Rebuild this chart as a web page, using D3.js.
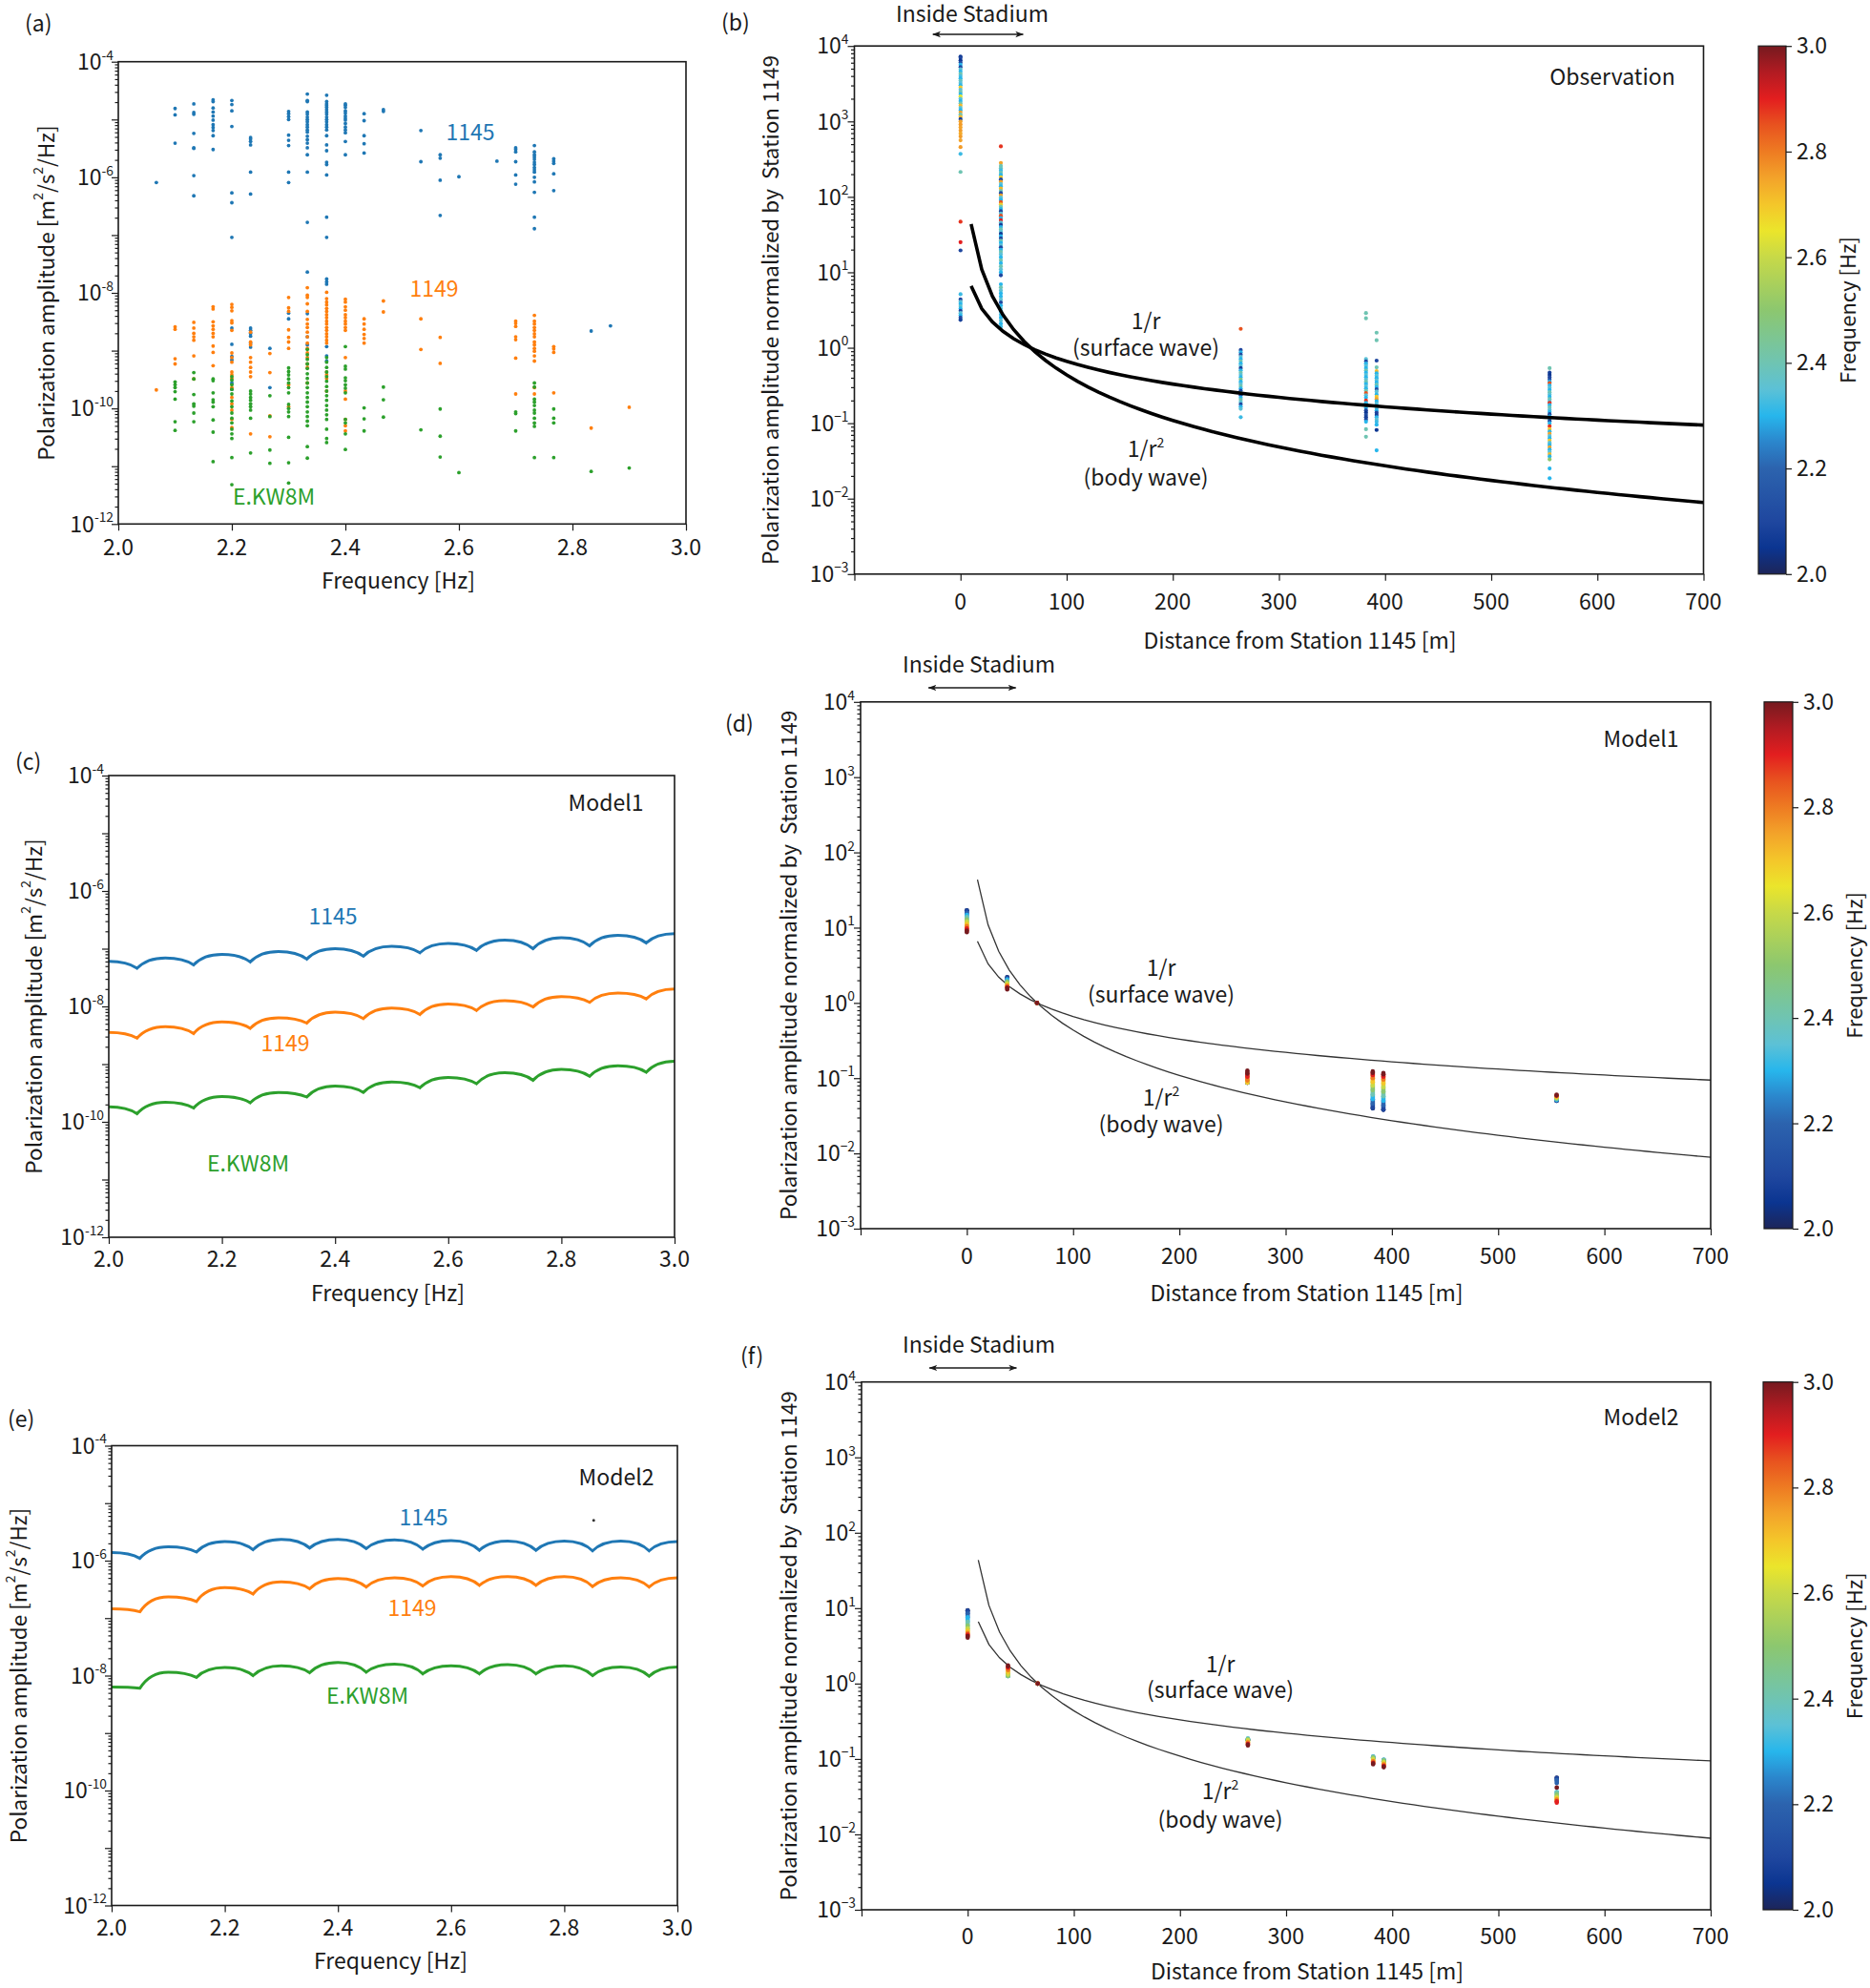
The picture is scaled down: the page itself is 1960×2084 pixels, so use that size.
<!DOCTYPE html>
<html>
<head>
<meta charset="utf-8">
<script src="https://cdn.jsdelivr.net/npm/d3@7/dist/d3.min.js"></script>
<style>
  body { margin: 0; background: #fff; }
  text { font-family: "Noto Sans CJK JP", "Noto Sans", sans-serif; }
</style>
</head>
<body>
<script>
// ---------- data (amplitudes stored as log10 values) ----------

// (a) observed polarization amplitude: [frequency, [log10 amplitude, ...]]
var obs1145 = [
  [2.067, [-6.09]],
  [2.1, [-4.81, -4.92, -5.41]],
  [2.133, [-4.73, -4.88, -4.91, -5.24, -5.49, -5.50, -5.97, -6.32]],
  [2.167, [-4.66, -4.69, -4.80, -4.87, -4.94, -5.01, -5.09, -5.14, -5.19, -5.28, -5.52]],
  [2.2, [-4.67, -4.74, -4.85, -5.12, -6.27, -6.44, -7.04, -8.61, -8.89, -9.10, -9.16, -9.56, -9.67]],
  [2.233, [-5.31, -5.34, -5.38, -5.44, -5.91, -6.29, -8.61, -8.65, -8.70, -8.75, -8.87, -8.94]],
  [2.267, [-8.96, -9.64]],
  [2.3, [-4.86, -4.90, -4.95, -5.00, -5.27, -5.36, -5.45, -5.91, -6.09, -8.35, -8.45]],
  [2.333, [-4.56, -4.67, -4.69, -4.87, -4.91, -4.96, -5.00, -5.04, -5.09, -5.13, -5.18, -5.22, -5.29, -5.35, -5.41, -5.49, -5.61, -5.91, -6.78, -7.64, -8.36, -8.76, -8.90]],
  [2.367, [-4.58, -4.69, -4.73, -4.76, -4.79, -4.83, -4.87, -4.91, -4.96, -5.00, -5.04, -5.09, -5.13, -5.18, -5.28, -5.44, -5.54, -5.74, -5.78, -5.96, -6.69, -7.04, -7.76, -7.81, -7.85, -8.93, -9.09, -9.18]],
  [2.4, [-4.73, -4.75, -4.79, -4.85, -4.89, -4.94, -4.98, -5.01, -5.07, -5.13, -5.18, -5.23, -5.38, -5.61]],
  [2.433, [-4.90, -5.02, -5.28, -5.42, -5.58]],
  [2.467, [-4.83, -4.86]],
  [2.533, [-5.19, -5.73]],
  [2.567, [-5.61, -5.67, -6.05, -6.66]],
  [2.6, [-5.99]],
  [2.667, [-5.72]],
  [2.7, [-5.49, -5.52, -5.56, -5.73, -5.96, -6.12]],
  [2.733, [-5.45, -5.56, -5.61, -5.65, -5.69, -5.74, -5.78, -5.83, -5.87, -5.91, -6.00, -6.08, -6.26, -6.69, -6.89]],
  [2.767, [-5.68, -5.72, -5.76, -5.94, -6.23]],
  [2.833, [-8.66]],
  [2.867, [-8.57]]
];
var obs1149 = [
  [2.067, [-9.68]],
  [2.1, [-8.59, -8.63, -9.14, -9.23]],
  [2.133, [-8.51, -8.61, -8.70, -8.76, -8.82, -9.09, -9.49]],
  [2.167, [-8.24, -8.28, -8.50, -8.57, -8.63, -8.70, -8.76, -8.92, -9.03, -9.26]],
  [2.2, [-8.20, -8.25, -8.31, -8.48, -8.52, -8.65, -9.04, -9.12, -9.20, -9.37, -9.42, -9.48, -9.64, -9.81, -9.92, -10.03, -10.19, -10.33]],
  [2.233, [-8.68, -8.85, -8.90, -9.12, -9.20, -9.29, -9.37, -9.45, -10.44]],
  [2.267, [-9.05, -9.38, -10.13, -10.49]],
  [2.3, [-8.08, -8.26, -8.32, -8.64, -8.77, -8.85, -8.96, -9.59, -9.97]],
  [2.333, [-7.91, -8.04, -8.08, -8.19, -8.32, -8.46, -8.54, -8.60, -8.68, -8.76, -8.87, -8.96, -9.04, -9.12, -9.23, -9.29, -9.56]],
  [2.367, [-7.99, -8.10, -8.16, -8.21, -8.27, -8.32, -8.38, -8.43, -8.49, -8.54, -8.60, -8.65, -8.71, -8.76, -8.82, -8.87, -9.37, -9.42, -9.48, -9.70]],
  [2.4, [-8.11, -8.16, -8.24, -8.30, -8.38, -8.43, -8.49, -8.54, -8.60, -8.65, -9.12, -9.70, -9.84, -10.19, -10.30, -10.39]],
  [2.433, [-8.45, -8.54, -8.63, -8.72, -8.79, -8.87]],
  [2.467, [-8.14, -8.33]],
  [2.533, [-8.45, -8.98]],
  [2.567, [-8.77, -9.22]],
  [2.7, [-8.49, -8.53, -8.58, -8.76, -8.81, -9.13, -9.75]],
  [2.733, [-8.39, -8.49, -8.54, -8.60, -8.65, -8.71, -8.76, -8.85, -8.90, -8.96, -9.01, -9.09, -9.18, -9.64, -9.75]],
  [2.767, [-8.93, -8.97, -9.03, -9.73]],
  [2.833, [-10.34]],
  [2.9, [-9.98]]
];
var obsKW8M = [
  [2.1, [-9.54, -9.59, -9.64, -9.71, -9.84, -10.23, -10.38]],
  [2.133, [-9.38, -9.49, -9.76, -9.92, -9.96, -10.08, -10.23]],
  [2.167, [-9.49, -9.52, -9.73, -9.85, -9.89, -9.97, -10.20, -10.41, -10.92]],
  [2.2, [-9.45, -9.51, -9.59, -9.67, -9.75, -9.87, -9.97, -10.08, -10.17, -10.25, -10.36, -10.44, -10.52, -10.85, -11.32]],
  [2.233, [-9.70, -9.75, -9.81, -9.86, -9.92, -9.97, -10.03, -10.17, -10.77]],
  [2.267, [-9.78, -10.14, -10.72, -10.95]],
  [2.3, [-9.30, -9.36, -9.42, -9.49, -9.56, -9.64, -9.73, -9.93, -10.00, -10.06, -10.14, -10.50, -10.94, -11.29]],
  [2.333, [-8.98, -9.07, -9.15, -9.23, -9.31, -9.40, -9.48, -9.56, -9.64, -9.73, -9.81, -9.89, -9.97, -10.06, -10.14, -10.22, -10.30, -10.66, -10.86]],
  [2.367, [-9.12, -9.20, -9.29, -9.37, -9.45, -9.53, -9.62, -9.70, -9.78, -9.86, -9.95, -10.03, -10.11, -10.19, -10.36, -10.52, -10.59]],
  [2.4, [-8.93, -9.27, -9.32, -9.47, -9.52, -9.59, -9.65, -9.73, -10.19, -10.25, -10.44, -10.71]],
  [2.433, [-9.99, -10.18, -10.39]],
  [2.467, [-9.63, -9.85, -10.15]],
  [2.533, [-10.37]],
  [2.567, [-10.01, -10.48, -10.84]],
  [2.6, [-11.11]],
  [2.7, [-10.06, -10.09, -10.39]],
  [2.733, [-9.56, -9.63, -9.84, -9.89, -9.95, -10.03, -10.08, -10.17, -10.25, -10.31, -10.85]],
  [2.767, [-10.01, -10.17, -10.25, -10.85]],
  [2.833, [-11.09]],
  [2.9, [-11.03]]
];

// (c), (e) modelled amplitude: peaks at 2.0, 2.1, ... and cusps at 2.05, 2.15, ...
var modelFreq = [2.0, 2.05, 2.1, 2.15, 2.2, 2.25, 2.3, 2.35, 2.4, 2.45, 2.5, 2.55, 2.6, 2.65, 2.7, 2.75, 2.8, 2.85, 2.9, 2.95, 3.0];
var m1_1145 = [-7.22, -7.34, -7.16, -7.28, -7.10, -7.23, -7.05, -7.18, -7.00, -7.13, -6.96, -7.07, -6.91, -7.03, -6.85, -7.00, -6.81, -6.95, -6.77, -6.90, -6.74];
var m1_1149 = [-8.45, -8.55, -8.35, -8.47, -8.27, -8.38, -8.20, -8.29, -8.10, -8.21, -8.03, -8.14, -7.96, -8.07, -7.90, -8.01, -7.83, -7.93, -7.77, -7.87, -7.70];
var m1_KW8M = [-9.74, -9.86, -9.66, -9.76, -9.56, -9.67, -9.49, -9.57, -9.38, -9.49, -9.31, -9.41, -9.23, -9.34, -9.15, -9.28, -9.09, -9.21, -9.03, -9.14, -8.95];
var m2_1145 = [-5.86, -5.96, -5.76, -5.85, -5.67, -5.81, -5.63, -5.78, -5.63, -5.79, -5.64, -5.80, -5.65, -5.82, -5.66, -5.82, -5.66, -5.83, -5.66, -5.83, -5.67];
var m2_1149 = [-6.84, -6.89, -6.63, -6.71, -6.47, -6.58, -6.37, -6.49, -6.31, -6.46, -6.30, -6.44, -6.28, -6.43, -6.28, -6.43, -6.28, -6.45, -6.30, -6.46, -6.30];
var m2_KW8M = [-8.20, -8.22, -7.94, -8.03, -7.86, -8.00, -7.83, -7.95, -7.77, -7.94, -7.80, -7.97, -7.83, -7.97, -7.81, -7.97, -7.83, -8.00, -7.85, -8.01, -7.85];
var m2_stray = [2.852, -5.30];

// (b) observed amplitude normalized by station 1149: [distance, [[log10 amp, freq], ...]]
var obsNorm = [
  [0, [[3.86,2.05],[3.84,2.1],[3.81,2.05],[3.78,2.12],[3.75,2.3],[3.72,2.1],[3.69,2.35],[3.66,2.3],[3.63,2.4],[3.60,2.33],[3.57,2.3],[3.54,2.38],[3.51,2.35],[3.48,2.3],[3.45,2.7],[3.42,2.35],[3.39,2.4],[3.36,2.3],[3.33,2.65],[3.30,2.35],[3.27,2.3],[3.24,2.4],[3.21,2.72],[3.18,2.35],[3.15,2.3],[3.12,2.75],[3.09,2.4],[3.06,2.72],[3.03,2.08],[3.00,2.75],[2.96,2.76],[2.92,2.75],[2.88,2.76],[2.84,2.74],[2.80,2.76],[2.75,2.75],[2.66,2.76],[2.57,2.32],[2.33,2.4],[1.67,2.88],[1.40,2.9],[1.29,2.1],[0.71,2.32],[0.64,2.1],[0.61,2.35],[0.58,2.3],[0.55,2.36],[0.52,2.3],[0.49,2.1],[0.46,2.35],[0.43,2.3],[0.40,2.12],[0.37,2.08]]],
  [38, [[2.67,2.88],[2.45,2.75],[2.41,2.4],[2.38,2.38],[2.35,2.32],[2.32,2.4],[2.29,2.3],[2.26,2.7],[2.23,2.1],[2.20,2.75],[2.17,2.35],[2.14,2.3],[2.11,2.72],[2.08,2.4],[2.05,2.1],[2.02,2.75],[1.99,2.35],[1.96,2.3],[1.93,2.85],[1.90,2.68],[1.87,2.4],[1.84,2.3],[1.81,2.1],[1.78,2.35],[1.75,2.86],[1.72,2.3],[1.69,2.9],[1.66,2.35],[1.63,2.08],[1.60,2.3],[1.57,2.4],[1.54,2.35],[1.51,2.05],[1.48,2.3],[1.45,2.1],[1.42,2.4],[1.39,2.3],[1.36,2.35],[1.33,2.1],[1.30,2.3],[1.27,2.4],[1.24,2.35],[1.20,2.3],[1.16,2.4],[1.12,2.3],[1.08,2.4],[1.04,2.35],[1.00,2.3],[0.96,2.1],[0.84,2.3],[0.80,2.4],[0.76,2.35],[0.72,2.3],[0.68,2.3],[0.64,2.35],[0.60,2.1],[0.56,2.3],[0.52,2.35],[0.48,2.3],[0.44,2.32],[0.40,2.3],[0.36,2.35],[0.32,2.3],[0.28,2.32]]],
  [264, [[0.25,2.85],[-0.03,2.1],[-0.06,2.3],[-0.09,2.12],[-0.12,2.35],[-0.15,2.3],[-0.18,2.4],[-0.21,2.3],[-0.24,2.35],[-0.27,2.08],[-0.30,2.3],[-0.33,2.4],[-0.36,2.35],[-0.39,2.3],[-0.42,2.45],[-0.45,2.3],[-0.48,2.35],[-0.51,2.4],[-0.54,2.3],[-0.57,2.12],[-0.60,2.35],[-0.63,2.1],[-0.66,2.3],[-0.69,2.4],[-0.72,2.35],[-0.75,2.1],[-0.78,2.3],[-0.81,2.35],[-0.92,2.32]]],
  [382, [[0.46,2.4],[0.39,2.4],[-0.15,2.35],[-0.18,2.1],[-0.21,2.3],[-0.24,2.35],[-0.27,2.3],[-0.30,2.4],[-0.33,2.3],[-0.36,2.35],[-0.39,2.3],[-0.42,2.35],[-0.45,2.4],[-0.48,2.3],[-0.51,2.35],[-0.54,2.3],[-0.57,2.4],[-0.60,2.85],[-0.63,2.35],[-0.66,2.3],[-0.70,2.88],[-0.73,2.3],[-0.76,2.35],[-0.80,2.3],[-0.83,2.1],[-0.86,2.05],[-0.89,2.12],[-0.92,2.08],[-0.95,2.1],[-0.98,2.3],[-1.08,2.4],[-1.18,2.4]]],
  [392, [[0.20,2.4],[0.10,2.4],[-0.17,2.1],[-0.26,2.4],[-0.31,2.72],[-0.34,2.3],[-0.37,2.35],[-0.40,2.3],[-0.43,2.35],[-0.46,2.3],[-0.49,2.4],[-0.52,2.3],[-0.55,2.12],[-0.58,2.35],[-0.62,2.3],[-0.65,2.7],[-0.68,2.75],[-0.71,2.3],[-0.74,2.35],[-0.77,2.3],[-0.80,2.35],[-0.83,2.3],[-0.86,2.1],[-0.89,2.08],[-0.92,2.3],[-0.95,2.35],[-0.98,2.32],[-1.02,2.3],[-1.09,2.05],[-1.36,2.3]]],
  [555, [[-0.27,2.4],[-0.33,2.08],[-0.36,2.05],[-0.39,2.1],[-0.42,2.12],[-0.45,2.3],[-0.47,2.85],[-0.50,2.3],[-0.53,2.35],[-0.56,2.3],[-0.59,2.4],[-0.62,2.35],[-0.65,2.3],[-0.68,2.4],[-0.71,2.35],[-0.73,2.88],[-0.76,2.3],[-0.79,2.4],[-0.82,2.35],[-0.85,2.3],[-0.88,2.12],[-0.91,2.3],[-0.94,2.35],[-0.97,2.1],[-1.00,2.3],[-1.04,2.88],[-1.08,2.7],[-1.11,2.3],[-1.14,2.75],[-1.17,2.35],[-1.20,2.3],[-1.23,2.7],[-1.26,2.35],[-1.29,2.3],[-1.32,2.75],[-1.35,2.3],[-1.38,2.35],[-1.41,2.72],[-1.44,2.3],[-1.48,2.5],[-1.60,2.3],[-1.73,2.3]]]
];

// (d), (f) modelled normalized amplitude, log10 value at each of modelFreq11
var modelFreq11 = [2.0, 2.1, 2.2, 2.3, 2.4, 2.5, 2.6, 2.7, 2.8, 2.9, 3.0];
var model1Norm = [
  [0,   [1.23, 1.20, 1.17, 1.14, 1.11, 1.08, 1.05, 1.02, 0.99, 0.96, 0.94]],
  [38,  [0.34, 0.32, 0.31, 0.29, 0.28, 0.26, 0.24, 0.23, 0.21, 0.20, 0.18]],
  [66,  [0, 0, 0, 0, 0, 0, 0, 0, 0, 0, 0]],
  [264, [-1.06, -1.06, -1.05, -1.05, -1.04, -1.04, -1.06, -1.03, -0.98, -0.94, -0.90]],
  [382, [-1.40, -1.34, -1.28, -1.22, -1.16, -1.10, -1.05, -1.00, -0.96, -0.93, -0.91]],
  [392, [-1.42, -1.36, -1.30, -1.24, -1.18, -1.12, -1.07, -1.02, -0.98, -0.95, -0.93]],
  [555, [-1.30, -1.29, -1.29, -1.28, -1.27, -1.26, -1.25, -1.24, -1.23, -1.23, -1.22]]
];
var model2Norm = [
  [0,   [0.97, 0.93, 0.88, 0.82, 0.77, 0.73, 0.70, 0.67, 0.65, 0.63, 0.61]],
  [38,  [0.12, 0.11, 0.10, 0.10, 0.10, 0.12, 0.15, 0.18, 0.21, 0.23, 0.24]],
  [66,  [0, 0, 0, 0, 0, 0, 0, 0, 0, 0, 0]],
  [264, [-0.75, -0.74, -0.74, -0.73, -0.74, -0.75, -0.77, -0.78, -0.80, -0.81, -0.82]],
  [382, [-0.99, -0.98, -0.97, -0.97, -0.98, -1.00, -1.02, -1.03, -1.05, -1.06, -1.07]],
  [392, [-1.03, -1.02, -1.01, -1.01, -1.02, -1.04, -1.06, -1.07, -1.09, -1.10, -1.11]],
  [555, [-1.25, -1.28, -1.32, -1.44, -1.47, -1.50, -1.52, -1.54, -1.56, -1.58, -1.38]]
];

// reference decay curves through station 1149 (66 m): 1/r and 1/r^2
var refR0 = 66;
var refDist = d3.range(10, 710, 10);

// axis ticks
var freqTicks = [2.0, 2.2, 2.4, 2.6, 2.8, 3.0];
var distTicks = [-100, 0, 100, 200, 300, 400, 500, 600, 700];
var distLabels = [0, 100, 200, 300, 400, 500, 600, 700];
var cbarTicks = [2.0, 2.2, 2.4, 2.6, 2.8, 3.0];

// colormap for frequency
var cmapStops = [2.0, 2.05, 2.1, 2.2, 2.25, 2.3, 2.35, 2.4, 2.5, 2.6, 2.65, 2.7, 2.75, 2.8, 2.85, 2.9, 2.95, 3.0];
var cmapColors = ["#1d2559", "#0b3591", "#1f479f", "#2c63ae", "#2b86cc", "#27b6ec", "#5cc1d6", "#6fc4b2", "#8cc76f", "#c7d948", "#ebe52b", "#f4c62a", "#f3a32a", "#ee7b22", "#e8531f", "#e31e1f", "#b21b22", "#761a1f"];

var c1145 = "#1f77b4", c1149 = "#ff7f0e", cKW8M = "#2ca02c";

// ---------- drawing ----------
var ink = "#1a1a1a";
var sans = '"Noto Sans CJK JP", "Noto Sans", sans-serif';
var dejavu = '"DejaVu Sans", sans-serif';
var fcol = d3.scaleLinear().domain(cmapStops).range(cmapColors).clamp(true);

var svg = d3.select("body").append("svg").attr("width", 1960).attr("height", 2084);
var defs = svg.append("defs");
defs.append("marker").attr("id", "arr").attr("viewBox", "0 0 10 10")
  .attr("refX", 9).attr("refY", 5).attr("markerWidth", 9).attr("markerHeight", 9)
  .attr("markerUnits", "userSpaceOnUse").attr("orient", "auto-start-reverse")
  .append("path").attr("d", "M0,1.5 L10,5 L0,8.5 L2.5,5 z").attr("fill", ink);

function txt(g, x, y, s, o) {
  o = o || {};
  return g.append("text").attr("x", x).attr("y", y)
    .attr("text-anchor", o.anchor || "middle")
    .attr("font-size", o.size || 23)
    .attr("font-family", o.family || sans)
    .attr("fill", o.fill || ink).text(s);
}
function vtxt(g, x, y, o) {
  o = o || {};
  return g.append("text").attr("transform", "translate(" + x + "," + y + ") rotate(-90)")
    .attr("text-anchor", "middle").attr("dominant-baseline", "central")
    .attr("font-size", o.size || 23).attr("font-family", o.family || sans)
    .attr("fill", ink);
}
function tidy(a) {
  a.select(".domain").remove();
  a.selectAll("line").attr("stroke", ink).attr("stroke-width", 1.2);
}
function powLabel(g, x, y, e, size, minus) {
  var t = g.append("text").attr("x", x).attr("y", y).attr("text-anchor", "end")
    .attr("font-size", size).attr("font-family", sans).attr("fill", ink);
  t.append("tspan").text("10");
  t.append("tspan").attr("dy", -size * 0.45).attr("font-size", size * 0.6)
    .text(String(e).replace("-", minus ? "\u2212" : "-"));
}
function logY(g, p, y, e0, e1, step, o) {
  var major = [], minor = [];
  for (var e = e0; e <= e1; e++) {
    major.push(Math.pow(10, e));
    if (e < e1) for (var m = 2; m < 10; m++) minor.push(m * Math.pow(10, e));
  }
  g.append("g").attr("transform", "translate(" + p.l + ",0)")
    .call(d3.axisLeft(y).tickValues(minor).tickSize(3.5).tickFormat("")).call(tidy);
  g.append("g").attr("transform", "translate(" + p.l + ",0)")
    .call(d3.axisLeft(y).tickValues(major).tickSize(7).tickFormat("")).call(tidy);
  for (var k = e0; k <= e1; k += step) powLabel(g, p.l - o.pad, y(Math.pow(10, k)) + o.size * 0.36, k, o.size, o.minus);
}
function bottomX(g, p, x, ticks, labels, dy, fmt) {
  g.append("g").attr("transform", "translate(0," + p.b + ")")
    .call(d3.axisBottom(x).tickValues(ticks).tickSize(7).tickFormat("")).call(tidy);
  labels.forEach(function(v) { txt(g, x(v), p.b + dy, fmt(v)); });
}
function frame(g, p) {
  g.append("rect").attr("x", p.l).attr("y", p.t).attr("width", p.r - p.l).attr("height", p.b - p.t)
    .attr("fill", "none").attr("stroke", ink).attr("stroke-width", 1.6);
}

// ---- frequency panels (a), (c), (e) ----
function freqPanel(p) {
  var g = svg.append("g");
  var x = d3.scaleLinear().domain([2, 3]).range([p.l, p.r]);
  var y = d3.scaleLog().domain([1e-12, 1e-4]).range([p.b, p.t]);
  txt(g, p.letter[0], p.letter[1], p.letter[2], { anchor: "start" });
  bottomX(g, p, x, freqTicks, freqTicks, p.tickDy, d3.format(".1f"));
  logY(g, p, y, -12, -4, 2, { pad: 5, size: 23, minus: false });
  txt(g, (p.l + p.r) / 2 - 4, p.b + p.xlabDy, "Frequency [Hz]");
  var yl = vtxt(g, p.ylabX, (p.t + p.b) / 2, { size: 22.5 });
  yl.append("tspan").text("Polarization amplitude [m");
  yl.append("tspan").attr("dy", -8).attr("font-size", 14).text("2");
  yl.append("tspan").attr("dy", 8).text("/s");
  yl.append("tspan").attr("dy", -8).attr("font-size", 14).text("2");
  yl.append("tspan").attr("dy", 8).text("/Hz]");
  return { g: g, x: x, y: y };
}

function scatterCols(g, x, y, cols, color) {
  cols.forEach(function(c) {
    c[1].forEach(function(e) {
      g.append("circle").attr("cx", x(c[0])).attr("cy", y(Math.pow(10, e)))
        .attr("r", 1.9).attr("fill", color);
    });
  });
}

function scallop(x, y, vals) {
  var pts = modelFreq.map(function(f, i) { return [x(f), y(Math.pow(10, vals[i]))]; });
  var d = "M" + pts[0][0] + "," + pts[0][1];
  for (var i = 1; i < pts.length; i++) {
    var a = pts[i - 1], b = pts[i], cx, cy;
    if (i % 2 === 1) { cx = a[0] + 0.65 * (b[0] - a[0]); cy = a[1]; }
    else { cx = a[0] + 0.35 * (b[0] - a[0]); cy = b[1]; }
    d += "Q" + cx + "," + cy + " " + b[0] + "," + b[1];
  }
  return d;
}

var pA = { l: 124, r: 719, t: 64.7, b: 549.3, letter: [26, 33, "(a)"], tickDy: 33, xlabDy: 68, ylabX: 47 };
var A = freqPanel(pA);
scatterCols(A.g, A.x, A.y, obs1145, c1145);
scatterCols(A.g, A.x, A.y, obs1149, c1149);
scatterCols(A.g, A.x, A.y, obsKW8M, cKW8M);
frame(A.g, pA);
txt(A.g, 493, 147, "1145", { fill: c1145 });
txt(A.g, 455, 311, "1149", { fill: c1149 });
txt(A.g, 287, 529, "E.KW8M", { fill: cKW8M });

var pC = { l: 114, r: 707, t: 813, b: 1297, letter: [16, 807, "(c)"], tickDy: 31, xlabDy: 67, ylabX: 34 };
var C = freqPanel(pC);
[[m1_1145, c1145], [m1_1149, c1149], [m1_KW8M, cKW8M]].forEach(function(s) {
  C.g.append("path").attr("d", scallop(C.x, C.y, s[0])).attr("fill", "none")
    .attr("stroke", s[1]).attr("stroke-width", 3);
});
frame(C.g, pC);
txt(C.g, 635, 850, "Model1");
txt(C.g, 349, 969, "1145", { fill: c1145 });
txt(C.g, 299, 1102, "1149", { fill: c1149 });
txt(C.g, 260, 1228, "E.KW8M", { fill: cKW8M });

var pE = { l: 117, r: 710, t: 1515.5, b: 1997.5, letter: [8, 1496, "(e)"], tickDy: 31, xlabDy: 66, ylabX: 18 };
var E = freqPanel(pE);
[[m2_1145, c1145], [m2_1149, c1149], [m2_KW8M, cKW8M]].forEach(function(s) {
  E.g.append("path").attr("d", scallop(E.x, E.y, s[0])).attr("fill", "none")
    .attr("stroke", s[1]).attr("stroke-width", 3);
});
E.g.append("circle").attr("cx", E.x(m2_stray[0])).attr("cy", E.y(Math.pow(10, m2_stray[1])))
  .attr("r", 1.5).attr("fill", "#333");
frame(E.g, pE);
txt(E.g, 646, 1557, "Model2");
txt(E.g, 444, 1599, "1145", { fill: c1145 });
txt(E.g, 432, 1694, "1149", { fill: c1149 });
txt(E.g, 385, 1786, "E.KW8M", { fill: cKW8M });

// ---- distance panels (b), (d), (f) ----
function colorbar(p, id) {
  var g = svg.append("g");
  var grad = defs.append("linearGradient").attr("id", id)
    .attr("x1", 0).attr("y1", 1).attr("x2", 0).attr("y2", 0);
  cmapStops.forEach(function(s, i) {
    grad.append("stop").attr("offset", s - 2).attr("stop-color", cmapColors[i]);
  });
  g.append("rect").attr("x", p.cbx).attr("y", p.t).attr("width", p.cbw).attr("height", p.b - p.t)
    .attr("fill", "url(#" + id + ")").attr("stroke", ink).attr("stroke-width", 1.2);
  var cy = d3.scaleLinear().domain([2, 3]).range([p.b, p.t]);
  g.append("g").attr("transform", "translate(" + (p.cbx + p.cbw) + ",0)")
    .call(d3.axisRight(cy).tickValues(cbarTicks).tickSize(6).tickFormat("")).call(tidy);
  cbarTicks.forEach(function(v) {
    txt(g, p.cbx + p.cbw + 11, cy(v) + 8, d3.format(".1f")(v), { anchor: "start" });
  });
  vtxt(g, p.cbx + p.cbw + 63, (p.t + p.b) / 2, { family: dejavu, size: 22 }).text("Frequency [Hz]");
}

function distPanel(p) {
  var g = svg.append("g");
  var x = d3.scaleLinear().domain([-100, 700]).range([p.l, p.r]);
  var y = d3.scaleLog().domain([1e-3, 1e4]).range([p.b, p.t]);
  txt(g, p.letter[0], p.letter[1], p.letter[2], { anchor: "start" });
  bottomX(g, p, x, distTicks, distLabels, p.tickDy, d3.format("d"));
  logY(g, p, y, -3, 4, 1, { pad: 6, size: 23, minus: true });
  txt(g, (p.l + p.r) / 2 + 22, p.b + p.xlabDy, "Distance from Station 1145 [m]");
  vtxt(g, p.ylabX, (p.t + p.b) / 2, { family: dejavu, size: 22.5 })
    .text("Polarization amplitude normalized by \u00a0Station 1149");
  // inside stadium annotation
  txt(g, p.stad[0], p.stad[1], "Inside Stadium");
  g.append("line").attr("x1", x(p.stadR[0])).attr("x2", x(p.stadR[1]))
    .attr("y1", p.stad[2]).attr("y2", p.stad[2]).attr("stroke", ink).attr("stroke-width", 1.5)
    .attr("marker-start", "url(#arr)").attr("marker-end", "url(#arr)");
  colorbar(p, p.id);
  return { g: g, x: x, y: y };
}

function refCurves(P, p, w) {
  var surf = d3.line().x(function(r) { return P.x(r); }).y(function(r) { return P.y(refR0 / r); });
  var body = d3.line().x(function(r) { return P.x(r); }).y(function(r) { return P.y(Math.pow(refR0 / r, 2)); });
  P.g.append("path").attr("d", surf(refDist)).attr("fill", "none").attr("stroke", p.lc).attr("stroke-width", w);
  P.g.append("path").attr("d", body(refDist)).attr("fill", "none").attr("stroke", p.lc).attr("stroke-width", w);
  var cx = p.lab[0];
  txt(P.g, cx, p.lab[1], "1/r");
  txt(P.g, cx, p.lab[2], "(surface wave)");
  var t = txt(P.g, cx, p.lab[3], "1/r");
  t.append("tspan").attr("dy", -10).attr("font-size", 14).text("2");
  txt(P.g, cx, p.lab[4], "(body wave)");
}

// gradient bars: short round-capped segments between neighbouring frequencies
function modelBars(P, cols) {
  cols.forEach(function(c) {
    var xs = P.x(c[0]);
    c[1].forEach(function(e, i) {
      var y0 = P.y(Math.pow(10, e));
      var col = fcol(modelFreq11[i]);
      if (i > 0 && Math.abs(e - c[1][i - 1]) < 0.1) {
        P.g.append("line").attr("x1", xs).attr("x2", xs)
          .attr("y1", P.y(Math.pow(10, c[1][i - 1]))).attr("y2", y0)
          .attr("stroke", col).attr("stroke-width", 4.6).attr("stroke-linecap", "round");
      } else {
        P.g.append("circle").attr("cx", xs).attr("cy", y0).attr("r", 2.4).attr("fill", col);
      }
    });
  });
}

var pB = { l: 895.5, r: 1785.5, t: 48.2, b: 601.8, letter: [756, 32, "(b)"], tickDy: 37, xlabDy: 78, ylabX: 806,
  stad: [1019, 23, 36], stadR: [-26, 59], cbx: 1843, cbw: 29, id: "cbB", lc: "#000",
  lab: [1201, 345, 373, 479, 509] };
var B = distPanel(pB);
obsNorm.forEach(function(c) {
  c[1].forEach(function(v) {
    B.g.append("circle").attr("cx", B.x(c[0])).attr("cy", B.y(Math.pow(10, v[0])))
      .attr("r", 2.1).attr("fill", fcol(v[1]));
  });
});
refCurves(B, pB, 3.6);
frame(B.g, pB);
txt(B.g, 1690, 89, "Observation");

var pD = { l: 902, r: 1793, t: 735.8, b: 1288, letter: [760, 767, "(d)"], tickDy: 37, xlabDy: 76, ylabX: 825,
  stad: [1026, 705, 721], stadR: [-36, 46], cbx: 1849, cbw: 30, id: "cbD", lc: "#333",
  lab: [1217, 1023, 1051, 1159, 1187] };
var D = distPanel(pD);
refCurves(D, pD, 1.3);
modelBars(D, model1Norm);
frame(D.g, pD);
txt(D.g, 1720, 783, "Model1");

var pF = { l: 903, r: 1793, t: 1448.7, b: 2002, letter: [776, 1430, "(f)"], tickDy: 36, xlabDy: 73, ylabX: 825,
  stad: [1026, 1418, 1434], stadR: [-36, 46], cbx: 1848, cbw: 31, id: "cbF", lc: "#333",
  lab: [1279, 1753, 1780, 1886, 1916] };
var F = distPanel(pF);
refCurves(F, pF, 1.3);
modelBars(F, model2Norm);
frame(F.g, pF);
txt(F.g, 1720, 1494, "Model2");
</script>
</body>
</html>
